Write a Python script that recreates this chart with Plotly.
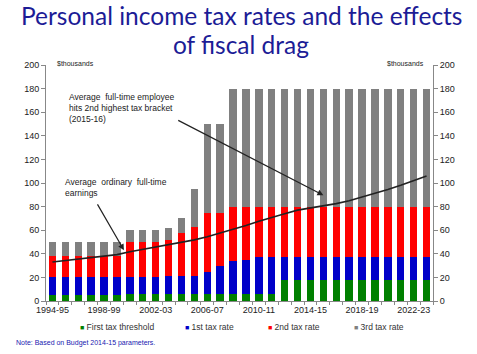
import plotly.graph_objects as go

years = ["1994-95", "1995-96", "1996-97", "1997-98", "1998-99", "1999-00",
         "2000-01", "2001-02", "2002-03", "2003-04", "2004-05", "2005-06",
         "2006-07", "2007-08", "2008-09", "2009-10", "2010-11", "2011-12",
         "2012-13", "2013-14", "2014-15", "2015-16", "2016-17", "2017-18",
         "2018-19", "2019-20", "2020-21", "2021-22", "2022-23", "2023-24"]
tick_labels = ["1994-95", "1998-99", "2002-03", "2006-07",
               "2010-11", "2014-15", "2018-19", "2022-23"]

# cumulative tops of each bracket ($ thousands)
threshold = [5.4] * 6 + [6] * 12 + [18.2] * 12
rate1_top = [20.7] * 6 + [20] * 3 + [21.6] * 3 + [25, 30, 34, 35] + [37] * 14
rate2_top = [38] * 6 + [50] * 3 + [52, 58, 63, 75, 75] + [80] * 16
rate3_top = [50] * 6 + [60] * 3 + [62, 70, 95, 150, 150] + [180] * 16
earnings = [33.0, 34.2, 35.3, 36.4, 37.5, 39.3, 41.8, 43.8, 45.8, 47.8,
            49.8, 51.8, 54.5, 57.5, 60.5, 64.0, 67.5, 71.0, 74.0, 77.0,
            78.8, 80.5, 82.5, 85.0, 88.0, 91.0, 94.5, 98.0, 102.0, 106.0]

series_names = ["First tax threshold", "1st tax rate", "2nd tax rate", "3rd tax rate"]
colors = ["#008000", "#0000C8", "#FF0000", "#808080"]
title_lines = ["Personal income tax rates and the effects", "of fiscal drag"]

seg1 = threshold
seg2 = [b - a for a, b in zip(threshold, rate1_top)]
seg3 = [b - a for a, b in zip(rate1_top, rate2_top)]
seg4 = [b - a for a, b in zip(rate2_top, rate3_top)]

fig = go.Figure()
for name, col, seg in zip(series_names, colors, [seg1, seg2, seg3, seg4]):
    fig.add_trace(go.Bar(x=years, y=seg, name=name, marker_color=col,
                         marker_line_width=0, showlegend=False))
fig.add_trace(go.Scatter(x=years, y=earnings, mode="lines",
                         line=dict(color="#222222", width=1.6),
                         showlegend=False, name="Average ordinary full-time earnings"))
# invisible trace to activate the right-hand axis
fig.add_trace(go.Scatter(x=years, y=earnings, mode="lines", yaxis="y2",
                         line=dict(width=0), opacity=0, hoverinfo="skip",
                         showlegend=False))

W, H = 477, 354
L, R, T, B = 46, 44, 65, 53
pw, ph = W - L - R, H - T - B

def px_x(p):
    return (p - L) / pw

def px_y(p):
    return (H - B - p) / ph

tickvals = years
ticktext = [y if y in tick_labels else "" for y in years]

axis_font = dict(family="Liberation Sans, Arial", size=9, color="#222222")
fig.update_layout(
    width=W, height=H,
    margin=dict(l=L, r=R, t=T, b=B),
    paper_bgcolor="white", plot_bgcolor="white",
    barmode="stack", bargap=0.42,
    xaxis=dict(type="category", range=[-0.5, 29.5], tickvals=tickvals,
               ticktext=ticktext, tickson="boundaries", ticks="outside",
               ticklen=3, tickcolor="#888888", showline=True,
               linecolor="#888888", linewidth=1, showgrid=False,
               tickfont=axis_font, tickangle=0),
    yaxis=dict(range=[0, 200], tickvals=list(range(0, 201, 20)), ticks="outside",
               ticklen=4, tickcolor="#888888", showline=True, linecolor="#888888",
               linewidth=1, showgrid=False, zeroline=False, tickfont=axis_font),
    yaxis2=dict(range=[0, 200], tickvals=list(range(0, 201, 20)), ticks="outside",
                ticklen=4, tickcolor="#888888", showline=True, linecolor="#888888",
                linewidth=1, showgrid=False, zeroline=False, tickfont=axis_font,
                overlaying="y", side="right"),
    font=dict(family="Liberation Sans, Arial"),
)

ann = []
title_font = dict(family="Lato, Open Sans", size=24.5, color="#1C1C96")
for line, cy in zip(title_lines, [15.5, 44.5]):
    ann.append(dict(text=line, xref="paper", yref="paper", x=px_x(241), y=px_y(cy),
                    xanchor="center", yanchor="middle", showarrow=False,
                    borderpad=0, font=title_font))

small = dict(family="Liberation Sans, Arial", size=7, color="#222222")
ann.append(dict(text="$thousands", xref="paper", yref="paper", x=px_x(55), y=px_y(63.5),
                xanchor="left", yanchor="middle", showarrow=False, font=small))
ann.append(dict(text="$thousands", xref="paper", yref="paper", x=px_x(426), y=px_y(63.5),
                xanchor="right", yanchor="middle", showarrow=False, font=small))

note_font = dict(family="Liberation Sans, Arial", size=8.5, color="#222222")
ann.append(dict(text="Average  full-time employee<br>hits 2nd highest tax bracket<br>(2015-16)",
                xref="paper", yref="paper", x=px_x(67), y=px_y(90), xanchor="left",
                yanchor="top", align="left", showarrow=False, font=note_font))
ann.append(dict(text="Average  ordinary  full-time<br>earnings",
                xref="paper", yref="paper", x=px_x(63), y=px_y(175), xanchor="left",
                yanchor="top", align="left", showarrow=False, font=note_font))
# arrows
ann.append(dict(text="", x=21.0, y=89.6, xref="x", yref="y", ax=-146.6, ay=-75.7,
                showarrow=True, arrowhead=2, arrowsize=1, arrowwidth=1.2,
                arrowcolor="#222222", standoff=0))
ann.append(dict(text="", x=5.54, y=43.1, xref="x", yref="y", ax=-27.3, ay=-47.3,
                showarrow=True, arrowhead=2, arrowsize=1, arrowwidth=1.2,
                arrowcolor="#222222", standoff=0))

# legend row
leg_x = [78, 183, 266, 352]
for name, col, lx in zip(series_names, colors, leg_x):
    ann.append(dict(text=f"<span style='color:{col};font-size:7px'>■</span> {name}",
                    xref="paper", yref="paper", x=px_x(lx), y=px_y(327),
                    xanchor="left", yanchor="middle", showarrow=False,
                    font=dict(family="Liberation Sans, Arial", size=8.5, color="#333333")))

ann.append(dict(text="Note: Based on Budget 2014-15 parameters.", xref="paper", yref="paper",
                x=px_x(14), y=px_y(343), xanchor="left", yanchor="middle", showarrow=False,
                font=dict(family="Liberation Sans, Arial", size=7, color="#2020B0")))

fig.update_layout(annotations=ann)
fig.write_html("out.html")
